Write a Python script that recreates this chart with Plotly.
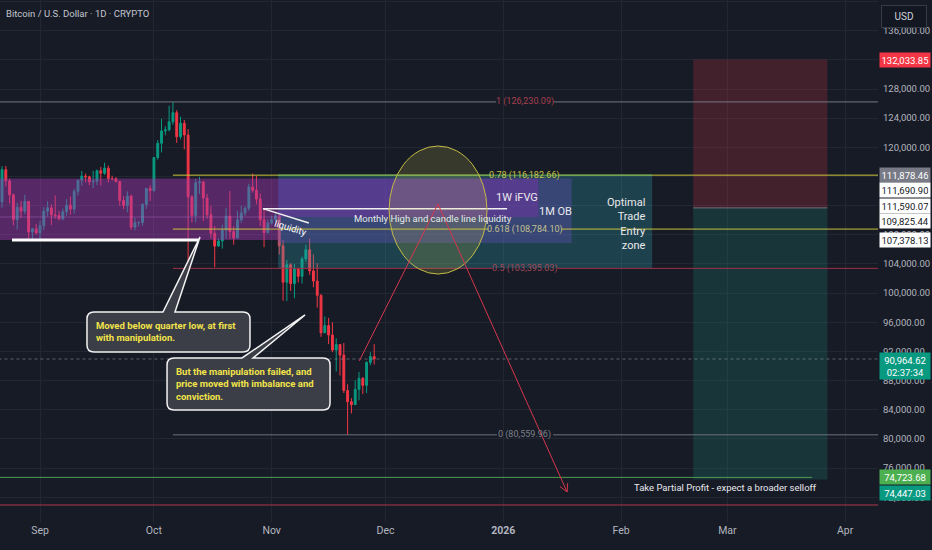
import math
import pandas as pd
import plotly.graph_objects as go

# daily candles, Aug 21 - Nov 28 2025
dates = pd.date_range("2025-08-21", "2025-11-28", freq="D")
opens = [114270, 112500, 116930, 115400, 113480, 110100, 111780, 111260, 112580, 108380,
         108820, 108250, 109240, 111240, 111700, 110730, 110660, 110190, 111150, 112070,
         111530, 113960, 115500, 116050, 115950, 115270, 115350, 116790, 116450, 117140,
         115700, 115700, 115300, 112700, 112000, 113300, 109050, 109650, 109700, 112150,
         114350, 114050, 118600, 120550, 122250, 122400, 123500, 124750, 121450, 123300,
         121700, 113200, 110650, 115150, 115250, 113050, 110750, 108200, 106450, 107150,
         108650, 110550, 108450, 107550, 110050, 111000, 111650, 114550, 114100, 112900,
         110050, 108300, 109600, 110100, 110600, 106500, 101500, 103900, 101300, 103350,
         102300, 104700, 105950, 103050, 101650, 99700, 94550, 95550, 94250, 92200,
         92950, 91500, 86650, 85100, 84700, 86800, 88300, 87350, 90500, 91300]
highs = [114800, 117400, 117450, 115700, 113650, 112400, 112650, 113500, 112650, 108950,
         109500, 109900, 111800, 112600, 112200, 113400, 111300, 111600, 112900, 113250,
         114300, 115500, 116750, 116400, 116100, 116780, 116950, 117300, 117900, 117500,
         116100, 115900, 115400, 113300, 113950, 113500, 110300, 109800, 112350, 114450,
         114800, 118650, 121000, 123900, 122900, 125700, 126230, 125100, 124200, 123750,
         122500, 113450, 115700, 115950, 115400, 113600, 111950, 109200, 107500, 109400,
         111700, 114000, 109150, 111300, 112000, 111900, 115000, 116400, 116100, 113650,
         111600, 110100, 110600, 111200, 110750, 107300, 104550, 104100, 104000, 103450,
         105000, 106650, 107500, 105300, 104100, 99850, 96800, 96600, 96000, 93800,
         92950, 93150, 87500, 85600, 88050, 89200, 88500, 90650, 91900, 93000]
lows = [112400, 111700, 114650, 112300, 109300, 108700, 110330, 110850, 107450, 107350,
        108050, 107300, 108620, 110500, 109330, 110200, 110000, 110000, 110600, 110750,
        110900, 113400, 114750, 115200, 114800, 114400, 114800, 114750, 116200, 115150,
        115450, 115200, 111950, 111500, 111100, 108650, 108600, 109100, 109250, 111550,
        112650, 113950, 118300, 119300, 121650, 122200, 123100, 120600, 121100, 119700,
        103300, 109700, 109700, 113600, 109900, 110200, 107500, 103550, 106350, 106100,
        107450, 107450, 106650, 107500, 109650, 110600, 111300, 113800, 112200, 109200,
        106300, 108200, 109400, 109700, 105300, 98950, 98900, 100300, 99300, 101450,
        101300, 104300, 102500, 100800, 98000, 94000, 94550, 93000, 91900, 89250,
        88700, 86300, 80560, 83500, 84650, 85300, 86150, 86300, 90100, 90200]
closes = [112500, 116930, 115400, 113480, 110100, 111780, 111260, 112580, 108380, 108820,
          108250, 109240, 111240, 111700, 110730, 110660, 110190, 111150, 112070, 111530,
          113960, 115500, 116050, 115950, 115270, 115350, 116790, 116450, 117140, 115700,
          115700, 115300, 112700, 112000, 113300, 109050, 109650, 109700, 112150, 114350,
          114050, 118600, 120550, 122250, 122400, 123500, 124750, 121450, 123300, 121700,
          113200, 110650, 115150, 115250, 113050, 110750, 108200, 106450, 107150, 108650,
          110550, 108450, 107550, 110050, 111000, 111650, 114550, 114100, 112900, 110050,
          108300, 109600, 110100, 110600, 106500, 101500, 103900, 101300, 103350, 102300,
          104700, 105950, 103050, 101650, 99700, 94550, 95550, 94250, 92200, 92950,
          91500, 86650, 85100, 84700, 86800, 88300, 87350, 90500, 91300, 90965]

# fib retracement drawn from the Oct 6 high to the Nov 21 low
fib_ratios = ["1", "0.78", "0.618", "0.5", "0"]
fib_prices = [126230.09, 116182.66, 108784.10, 103395.03, 80559.96]
fib_line_colors = ["#74777f", "#cdc43a", "#c9c23c", "#9e3048", "#6f727c"]
fib_text_colors = ["#a8404f", "#c8c24a", "#c2c08e", "#a4485a", "#7d808a"]
fib_gap_days = [7.6, 9.0, 9.6, 8.6, 7.4]

month_ticks = ["2025-09-01", "2025-10-01", "2025-11-01", "2025-12-01",
               "2026-01-01", "2026-02-01", "2026-03-01", "2026-04-01"]
month_labels = ["Sep", "Oct", "Nov", "Dec", "<b>2026</b>", "Feb", "Mar", "Apr"]

# price tags on the right scale: text, where it sits, background, text colour
tag_texts = ["132,033.85", "111,878.46", "111,690.90", "111,590.07", "109,825.44",
             "107,378.13", "90,964.62<br>02:37:34", "74,723.68", "74,447.03"]
tag_prices = [132033.85, 116180, 114150, 111950, 109880, 107300, 90000, 74723.68, 72560]
tag_bg = ["#f23645", "#787b86", "#ffffff", "#ffffff", "#ffffff", "#ffffff",
          "#089981", "#4caf50", "#089981"]
tag_fg = ["#ffffff", "#ffffff", "#131722", "#131722", "#131722", "#131722",
          "#ffffff", "#ffffff", "#ffffff"]

last_price = 90964.62
entry_price = 111690.90
stop_price = 132033.85
target_price = 74447.03
partial_tp = 74723.68
lower_line = 70940
quarter_low = 107290
quarter_high = 115740
quarter_mid = 110440
liquidity_price = 111590.07

BG = "#171b26"
GRID = "#232734"
FONT = "Roboto, sans-serif"

X_START = pd.Timestamp("2025-08-21 11:10")
X_END = pd.Timestamp("2026-04-09 16:00")
Y_MIN, Y_MAX = 68604, 140209
PX_DAY = 3.797      # screen pixels per day
PX_USD = 0.00729    # screen pixels per dollar

fig = go.Figure()
fig.add_trace(go.Candlestick(
    x=dates, open=opens, high=highs, low=lows, close=closes,
    increasing=dict(line=dict(color="#089981", width=1), fillcolor="#089981"),
    decreasing=dict(line=dict(color="#f23645", width=1), fillcolor="#f23645"),
    whiskerwidth=0, hoverinfo="skip", showlegend=False))

shapes = []
annos = []


def rect(x0, x1, y0, y1, fill):
    shapes.append(dict(type="rect", xref="x", yref="y", x0=x0, x1=x1, y0=y0, y1=y1,
                       fillcolor=fill, line=dict(width=0), layer="above"))


def hline(x0, x1, y, color, width=1, dash="solid"):
    shapes.append(dict(type="line", xref="x", yref="y", x0=x0, x1=x1, y0=y, y1=y,
                       line=dict(color=color, width=width, dash=dash), layer="above"))


def seg(x0, y0, x1, y1, color, width=1):
    shapes.append(dict(type="line", xref="x", yref="y", x0=x0, x1=x1, y0=y0, y1=y1,
                       line=dict(color=color, width=width), layer="above"))


def text(x, y, s, size=12, color="#e8e9ec", xanchor="center", align="center", angle=0):
    annos.append(dict(x=x, y=y, xref="x", yref="y", text=s, showarrow=False,
                      xanchor=xanchor, yanchor="middle", align=align, textangle=angle,
                      font=dict(family=FONT, size=size, color=color)))


LEFT = "2025-08-10"
RIGHT = "2026-05-01"
box_start = "2025-11-02 17:00"

# quarter range box
rect(LEFT, box_start, quarter_low, quarter_high, "rgba(165,60,182,0.45)")
hline(LEFT, box_start, quarter_mid, "rgba(200,120,220,0.35)")

# optimal trade entry zone, monthly OB and weekly iFVG
rect(box_start, "2026-02-09 05:00", fib_prices[3], fib_prices[1], "rgba(50,170,178,0.28)")
rect(box_start, "2026-01-19 00:00", 106880, quarter_high, "rgba(110,80,200,0.33)")
rect(box_start, "2026-01-10 05:00", quarter_mid, quarter_high, "rgba(150,40,190,0.33)")

# short position box
rect("2026-02-20 00:00", "2026-03-27 08:00", entry_price, stop_price, "rgba(242,54,69,0.2)")
rect("2026-02-20 00:00", "2026-03-27 08:00", target_price, entry_price, "rgba(34,171,148,0.18)")
hline("2026-02-20 00:00", "2026-03-27 08:00", entry_price, "#6f727c")

# fib levels with the label gap in the middle
fib_start = "2025-10-06"
label_x = pd.Timestamp("2026-01-06 17:00")
for i, p in enumerate(fib_prices):
    gap = pd.Timedelta(days=fib_gap_days[i])
    x0 = LEFT if i == 0 else fib_start
    hline(x0, label_x - gap, p, fib_line_colors[i])
    hline(label_x + gap, RIGHT, p, fib_line_colors[i])
    text(label_x, p, f"{fib_ratios[i]} ({p:,.2f})", size=9, color=fib_text_colors[i])
hline(box_start, "2026-02-09 05:00", fib_prices[1], "#5fae62")

# horizontal levels
hline(LEFT, RIGHT, last_price, "rgba(150,160,170,0.55)", dash="dot")
hline(LEFT, "2026-03-23 08:00", partial_tp, "#4f9a52")
hline(LEFT, RIGHT, lower_line, "#b0384c")
hline("2025-08-24 15:00", "2025-10-12 21:00", quarter_low, "#ffffff", width=3)

# liquidity lines
hline("2025-10-29 17:00", "2026-01-02 00:00", liquidity_price, "#f0f0f0", width=1.5)
seg("2025-10-29 17:00", liquidity_price, "2025-11-10 19:00", 109620, "#f0f0f0", width=1.5)
text("2025-11-05 20:00", 109000, "liquidity", size=9.5, color="#ffffff", angle=17)
text("2025-12-13 12:00", 110170, "Monthly High and candle line liquidity", size=9.5)

# circle on the monthly high
shapes.append(dict(type="circle", xref="x", yref="y", x0="2025-12-01 22:00",
                   x1="2025-12-27 17:00", y0=102620, y1=120180,
                   fillcolor="rgba(225,215,80,0.16)", line=dict(color="#c4bb45", width=1),
                   layer="above"))

# projected path: up into the zone then down with an arrow
path_x = ["2025-11-24 02:00", "2025-12-14 19:00", "2026-01-17 19:00"]
path_y = [90700, 112225, 72720]
seg(path_x[0], path_y[0], path_x[1], path_y[1], "#d8364d")
seg(path_x[1], path_y[1], path_x[2], path_y[2], "#d8364d")
dx = (pd.Timestamp(path_x[2]) - pd.Timestamp(path_x[1])).total_seconds() / 86400 * PX_DAY
dy = (path_y[1] - path_y[2]) * PX_USD  # screen y grows downward
ang = math.atan2(dy, dx)
head = []
for side in (-1, 1):
    a = ang + math.pi + side * math.radians(28)
    head.append((9 * math.cos(a), -9 * math.sin(a)))
shapes.append(dict(type="path", xref="x", yref="y", xsizemode="pixel", ysizemode="pixel",
                   xanchor=path_x[2], yanchor=path_y[2],
                   path=f"M {head[0][0]:.1f},{head[0][1]:.1f} L 0,0 L {head[1][0]:.1f},{head[1][1]:.1f}",
                   line=dict(color="#d8364d", width=1), layer="above"))

# zone labels
text("2026-01-04 14:00", 113050, "1W iFVG", size=11)
text("2026-01-14 15:00", 111265, "1M OB", size=11)
text("2026-02-08 03:00", 109480, "Optimal<br>Trade<br>Entry<br>zone", size=11,
     xanchor="right", align="right")
text("2026-02-28 10:00", 73400, "Take Partial Profit - expect a broader selloff", size=9.5)


def callout(tip_x, tip_y, left, top, right, bottom, tail_l, tail_r, lines, r=7):
    # pixel offsets from the tip, screen y pointing down
    pts = [("M", left + r, top), ("L", tail_l, top), ("L", 0, 0), ("L", tail_r, top),
           ("L", right - r, top), ("Q", right, top, right, top + r),
           ("L", right, bottom - r), ("Q", right, bottom, right - r, bottom),
           ("L", left + r, bottom), ("Q", left, bottom, left, bottom - r),
           ("L", left, top + r), ("Q", left, top, left + r, top)]
    p = ""
    for cmd, *v in pts:
        coords = [f"{v[k]},{-v[k + 1]}" for k in range(0, len(v), 2)]
        p += f"{cmd} {' '.join(coords)} "
    shapes.append(dict(type="path", xref="x", yref="y", xsizemode="pixel",
                       ysizemode="pixel", xanchor=tip_x, yanchor=tip_y, path=p + "Z",
                       fillcolor="rgba(62,65,74,0.93)", line=dict(color="#f2f2f2", width=1.5),
                       layer="above"))
    annos.append(dict(x=tip_x, y=tip_y, xref="x", yref="y", showarrow=False,
                      xshift=left + 7, yshift=-(top + bottom) / 2, xanchor="left",
                      yanchor="middle", align="left", text=lines,
                      font=dict(family=FONT, size=9.5, color="#f3e44a", weight="bold")))


callout("2025-10-13 03:00", 107700, -113, 75, 50, 115, -37, -25,
        "Moved below quarter low, at first<br>with manipulation.")
callout("2025-11-09 19:00", 97000, -138, 43, 25, 95, -63, -52,
        "But the manipulation failed, and<br>price moved with imbalance and<br>conviction.")

# right scale tags
for t, p, b, f in zip(tag_texts, tag_prices, tag_bg, tag_fg):
    annos.append(dict(x=1, y=p, xref="paper", yref="y", text=t, showarrow=False,
                      xanchor="left", yanchor="middle", xshift=1, bgcolor=b, width=47,
                      borderpad=1.5, font=dict(family=FONT, size=9.5, color=f)))

annos.append(dict(x=1.0296, y=0.969, xref="paper", yref="paper", text="USD",
                  showarrow=False, xanchor="center", yanchor="middle", bgcolor="#131722",
                  bordercolor="#363a45", borderwidth=1, borderpad=5, width=34,
                  font=dict(family=FONT, size=10, color="#d1d4dc")))
annos.append(dict(x=0.005, y=0.974, xref="paper", yref="paper",
                  text="Bitcoin / U.S. Dollar · 1D · CRYPTO", showarrow=False,
                  xanchor="left", yanchor="middle",
                  font=dict(family=FONT, size=9.5, color="#c3c6ce")))

fig.update_layout(
    width=932, height=550, margin=dict(l=0, r=54, t=0, b=28, autoexpand=False),
    paper_bgcolor=BG, plot_bgcolor=BG, showlegend=False,
    shapes=shapes, annotations=annos, hovermode=False,
    xaxis=dict(type="date", range=[X_START, X_END], rangeslider=dict(visible=False),
               tickvals=month_ticks, ticktext=month_labels, showgrid=True,
               gridcolor=GRID, zeroline=False, showline=False, ticks="", automargin=False,
               tickfont=dict(family=FONT, size=10.5, color="#b2b5be")),
    yaxis=dict(side="right", range=[Y_MIN, Y_MAX], dtick=4000, tick0=0,
               tickformat=",.2f", showgrid=True, gridcolor=GRID, zeroline=False,
               ticks="", ticklabelstandoff=4, automargin=False,
               tickfont=dict(family=FONT, size=9.5, color="#b2b5be")),
)

fig.write_html("out.html", config={"displayModeBar": False},
               post_script="document.body.style.margin='0px';")
